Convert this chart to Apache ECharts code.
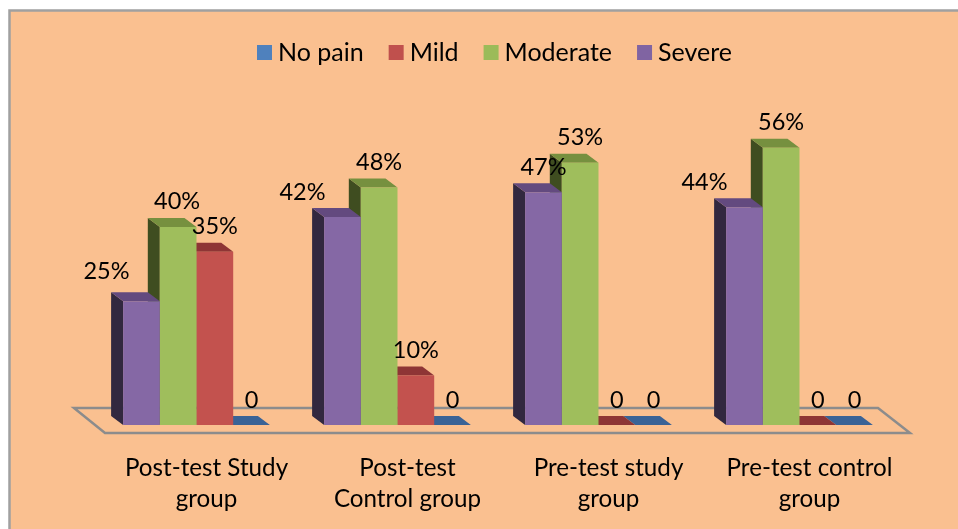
<!DOCTYPE html>
<html><head><meta charset="utf-8">
<style>html,body{margin:0;padding:0;background:#fff}#c{width:958px;height:529px}</style>
<script src="https://cdn.jsdelivr.net/npm/echarts@6/dist/echarts.min.js"></script>
</head><body><div id="c"></div>
<script>
const categories = ['Post-test Study\ngroup','Post-test\nControl group','Pre-test study\ngroup','Pre-test control\ngroup'];
const noPain   = [0,0,0,0];
const mild     = [35,10,0,0];
const moderate = [40,48,53,56];
const severe   = [25,42,47,44];
const seriesNames = ['No pain','Mild','Moderate','Severe'];
const seriesValues = [noPain,mild,moderate,severe];
const zeroText = ['0','0','0','0'];
// colour sets: front, side, top
const fronts = ['#4F81BD','#C3524E','#9FBE5C','#8568A5'];
const sides  = ['#2A4A70','#5E2725','#3F4D20','#32283F'];
const tops   = ['#3A6396','#8E3535','#76903F','#634A7F'];
// manual label displacement as in the picture
const labelDx = [[0,0,0,0],[0,0,0,0],[-1,0,0,0],[-35,-40,0,-40]];
const labelDy = [[0,0,0,0],[0,0,0,0],[-1,0,0,0],[-5,0,0,0]];
const BAR=36.7, DX=12, DY=9;

function barRender(si){
  return function(params, api){
    const ci = api.value(0), v = api.value(1);
    const base = api.coord([ci,0]), top = api.coord([ci,v]);
    const x0 = base[0] - 2*BAR + (3-si)*BAR;
    const x1 = x0 + BAR;
    const yb = base[1], yt = top[1];
    const kids = [];
    kids.push({type:'polygon',shape:{points:[[x0,yb],[x0,yt],[x0-DX,yt-DY],[x0-DX,yb-DY]]},style:{fill:sides[si]}});
    kids.push({type:'polygon',shape:{points:[[x0,yt],[x1,yt],[x1-DX,yt-DY],[x0-DX,yt-DY]]},style:{fill:tops[si]}});
    if (yb-yt>0) kids.push({type:'rect',shape:{x:x0,y:yt,width:BAR,height:yb-yt},style:{fill:fronts[si]}});
    kids.push({type:'text',z2:100,style:{
      text: v===0 ? zeroText[ci] : v+'%',
      x:(x0+x1)/2+labelDx[si][ci], y:yt-25+labelDy[si][ci],
      align:'center',verticalAlign:'middle',
      font:'23.5px Lato',fill:'#000'}});
    return {type:'group',children:kids};
  };
}
const floorSeries = {
  type:'custom',name:'floor',silent:true,z:1,
  data:[[0,0]],
  encode:{x:0,y:1},
  renderItem(params,api){
    const band = api.size([1,0])[0];
    const a = api.coord([0,0]), b = api.coord([categories.length-1,0]);
    const L = a[0]-band/2, R = b[0]+band/2, Y = a[1];
    return {type:'polygon',shape:{points:[[L-22,Y-17],[R-22,Y-17],[R+10,Y+8],[L+9,Y+8]]},
      style:{fill:'none',stroke:'#8C8C8C',lineWidth:2.5}};
  }
};
const barSeries = seriesNames.map((name,si)=>({
  type:'custom',name,z:2,
  itemStyle:{color:['#4F81BD','#C0504D','#9BBB59','#8064A2'][si]},
  encode:{x:0,y:1},
  data:seriesValues[si].map((v,i)=>[i,v]),
  renderItem:barRender(si)
}));
const chart = echarts.init(document.getElementById('c'),null,{renderer:'canvas'});
chart.setOption({
  animation:false,
  backgroundColor:'#fff',
  graphic:[{type:'rect',z:-10,silent:true,shape:{x:9.5,y:10.5,width:960,height:530},
    style:{fill:'#FAC090',stroke:'#A0A0A0',lineWidth:2.5}}],
  legend:{left:252,top:35,itemWidth:15,itemHeight:15,itemGap:25,icon:'rect',
    data:seriesNames,
    textStyle:{fontFamily:'Lato',fontSize:25,color:'#000',padding:[0,0,0,1]}},
  grid:{left:96,right:58,top:128,bottom:104},
  xAxis:{type:'category',data:categories,
    axisLine:{show:false},axisTick:{show:false},
    axisLabel:{fontFamily:'Lato',fontSize:24.2,color:'#000',lineHeight:31,margin:28,padding:[0,0,0,20],interval:0}},
  yAxis:{type:'value',min:0,max:60,show:false},
  series:[floorSeries,...barSeries]
});
</script></body></html>
